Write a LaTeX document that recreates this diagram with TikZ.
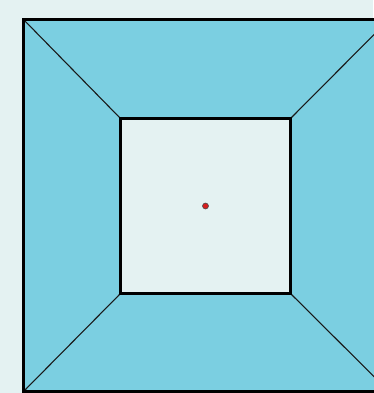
\documentclass[tikz,border=0pt]{standalone}
\usepackage{tikz}
\usepackage{xcolor}
\definecolor{paleback}{RGB}{228,242,242}
\definecolor{wallblue}{RGB}{123,207,225}
\definecolor{dotred}{RGB}{214,30,30}

\begin{document}
\begin{tikzpicture}[
  x=1pt, y=-1pt,
  frame/.style={draw=black, line width=2.2pt},
  hole/.style={draw=black, line width=2.4pt, fill=paleback},
  edge/.style={draw=black!90, line width=1.1pt}
]
\fill[paleback] (0,0) rectangle (373,393);
\useasboundingbox (0,0) rectangle (373,393);

% outer and inner corners
\coordinate (otl) at (23.5,19.5);
\coordinate (otr) at (389,19.5);
\coordinate (obr) at (389,391.5);
\coordinate (obl) at (23.5,391.5);
\coordinate (itl) at (120.5,118.5);
\coordinate (itr) at (290.5,118.5);
\coordinate (ibr) at (290.5,293.5);
\coordinate (ibl) at (120.5,293.5);

\fill[wallblue] (otl) rectangle (obr);
\draw[edge] (otl) -- (itl);
\draw[edge] (otr) -- (itr);
\draw[edge] (obr) -- (ibr);
\draw[edge] (obl) -- (ibl);
\draw[frame] (otl) rectangle (obr);
\draw[hole] (itl) rectangle (ibr);

\node[circle, draw=black!70, line width=0.6pt, fill=dotred, inner sep=0pt, minimum size=6pt] (mid) at (205.5,206) {};
\end{tikzpicture}
\end{document}
